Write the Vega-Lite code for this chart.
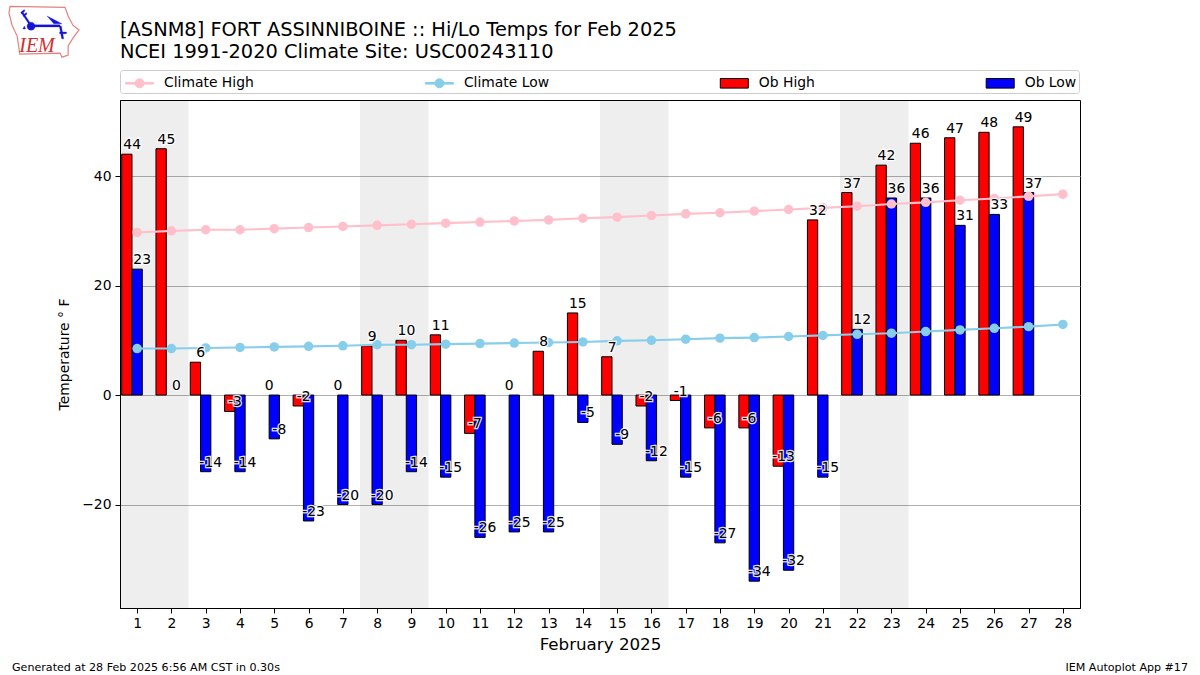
{
"$schema":"https://vega.github.io/schema/vega-lite/v6.json",
"width":960,"height":508,
"autosize":{"type":"none"},
"padding":{"left":120,"top":100,"right":120,"bottom":67},
"background":"white",
"view":{"stroke":"black","strokeWidth":1},
"config":{"font":"DejaVu Sans","text":{"font":"DejaVu Sans"}},
"title":{"text":["[ASNM8] FORT ASSINNIBOINE :: Hi/Lo Temps for Feb 2025","NCEI 1991-2020 Climate Site: USC00243110"],"anchor":"start","frame":"group","font":"DejaVu Sans","fontSize":19.4,"fontWeight":"normal","lineHeight":22,"offset":-59,"color":"black"},
"datasets":{
"daily":[
{"day":1,"climateHigh":29.7,"climateLow":8.5,"obHigh":44,"obLow":23},
{"day":2,"climateHigh":30.0,"climateLow":8.5,"obHigh":45,"obLow":0},
{"day":3,"climateHigh":30.2,"climateLow":8.6,"obHigh":6,"obLow":-14},
{"day":4,"climateHigh":30.2,"climateLow":8.7,"obHigh":-3,"obLow":-14},
{"day":5,"climateHigh":30.4,"climateLow":8.8,"obHigh":0,"obLow":-8},
{"day":6,"climateHigh":30.6,"climateLow":8.9,"obHigh":-2,"obLow":-23},
{"day":7,"climateHigh":30.8,"climateLow":9.0,"obHigh":0,"obLow":-20},
{"day":8,"climateHigh":31.0,"climateLow":9.2,"obHigh":9,"obLow":-20},
{"day":9,"climateHigh":31.2,"climateLow":9.2,"obHigh":10,"obLow":-14},
{"day":10,"climateHigh":31.4,"climateLow":9.3,"obHigh":11,"obLow":-15},
{"day":11,"climateHigh":31.6,"climateLow":9.4,"obHigh":-7,"obLow":-26},
{"day":12,"climateHigh":31.8,"climateLow":9.5,"obHigh":0,"obLow":-25},
{"day":13,"climateHigh":32.0,"climateLow":9.6,"obHigh":8,"obLow":-25},
{"day":14,"climateHigh":32.3,"climateLow":9.7,"obHigh":15,"obLow":-5},
{"day":15,"climateHigh":32.5,"climateLow":9.9,"obHigh":7,"obLow":-9},
{"day":16,"climateHigh":32.8,"climateLow":10.0,"obHigh":-2,"obLow":-12},
{"day":17,"climateHigh":33.1,"climateLow":10.2,"obHigh":-1,"obLow":-15},
{"day":18,"climateHigh":33.3,"climateLow":10.4,"obHigh":-6,"obLow":-27},
{"day":19,"climateHigh":33.6,"climateLow":10.5,"obHigh":-6,"obLow":-34},
{"day":20,"climateHigh":33.9,"climateLow":10.7,"obHigh":-13,"obLow":-32},
{"day":21,"climateHigh":34.2,"climateLow":10.9,"obHigh":32,"obLow":-15},
{"day":22,"climateHigh":34.5,"climateLow":11.1,"obHigh":37,"obLow":12},
{"day":23,"climateHigh":34.9,"climateLow":11.3,"obHigh":42,"obLow":36},
{"day":24,"climateHigh":35.2,"climateLow":11.6,"obHigh":46,"obLow":36},
{"day":25,"climateHigh":35.6,"climateLow":11.9,"obHigh":47,"obLow":31},
{"day":26,"climateHigh":35.9,"climateLow":12.2,"obHigh":48,"obLow":33},
{"day":27,"climateHigh":36.3,"climateLow":12.5,"obHigh":49,"obLow":37},
{"day":28,"climateHigh":36.7,"climateLow":12.9,"obHigh":null,"obLow":null}
],
"weekends":[{"start":0.5,"end":2.5},{"start":7.5,"end":9.5},{"start":14.5,"end":16.5},{"start":21.5,"end":23.5}],
"series":[{"series":"Climate High"},{"series":"Climate Low"},{"series":"Ob High"},{"series":"Ob Low"}]
},
"encoding":{
"x":{"field":"day","type":"quantitative","scale":{"domain":[0.5,28.5],"nice":false,"zero":false,"padding":0},
"axis":{"values":[1,2,3,4,5,6,7,8,9,10,11,12,13,14,15,16,17,18,19,20,21,22,23,24,25,26,27,28],"format":"d","grid":false,"title":"February 2025","titleFont":"DejaVu Sans","titleFontSize":16.7,"titleFontWeight":"normal","titleColor":"black","titlePadding":7,"labelFont":"DejaVu Sans","labelFontSize":13.9,"labelColor":"black","labelPadding":3,"labelFlush":false,"labelOverlap":false,"tickColor":"black","tickSize":5,"domainColor":"black"}}
},
"layer":[
{"data":{"name":"weekends"},"mark":{"type":"rect","color":"black","opacity":0.067},
 "encoding":{"x":{"field":"start","type":"quantitative"},"x2":{"field":"end"}}},
{"data":{"name":"daily"},"transform":[{"filter":"isValid(datum.obHigh) && datum.obHigh != 0"}],
 "mark":{"type":"bar","width":10.3,"xOffset":-10.3,"color":"#ff0000","stroke":"black","strokeWidth":1},
 "encoding":{"y":{"field":"obHigh","type":"quantitative","scale":{"domain":[-38.9,53.9],"nice":false,"zero":false},
  "axis":{"values":[-20,0,20,40],"grid":true,"gridColor":"#b0b0b0","gridWidth":1,"title":"Temperature ° F","titleFont":"DejaVu Sans","titleFontSize":13.9,"titleFontWeight":"normal","titleColor":"black","titlePadding":10,"labelFont":"DejaVu Sans","labelFontSize":13.9,"labelColor":"black","labelPadding":4,"tickColor":"black","tickSize":5,"domainColor":"black"}}}},
{"data":{"name":"daily"},"transform":[{"filter":"isValid(datum.obLow) && datum.obLow != 0"}],
 "mark":{"type":"bar","width":10.3,"color":"#0000ff","stroke":"black","strokeWidth":1},
 "encoding":{"y":{"field":"obLow","type":"quantitative"}}},
{"data":{"name":"daily"},"mark":{"type":"line","color":"pink","strokeWidth":2.1},"encoding":{"y":{"field":"climateHigh","type":"quantitative"}}},
{"data":{"name":"daily"},"mark":{"type":"point","filled":true,"color":"pink","opacity":1,"size":90},"encoding":{"y":{"field":"climateHigh","type":"quantitative"}}},
{"data":{"name":"daily"},"mark":{"type":"line","color":"skyblue","strokeWidth":2.1},"encoding":{"y":{"field":"climateLow","type":"quantitative"}}},
{"data":{"name":"daily"},"mark":{"type":"point","filled":true,"color":"skyblue","opacity":1,"size":90},"encoding":{"y":{"field":"climateLow","type":"quantitative"}}},
{"data":{"name":"daily"},"transform":[{"filter":"isValid(datum.obHigh)"}],"mark":{"type":"text","fontSize":13.9,"align":"center","baseline":"alphabetic","dx":-5,"dy":-5,"stroke":"white","strokeWidth":2.5,"strokeOpacity":0.9},
 "encoding":{"y":{"field":"obHigh","type":"quantitative"},"text":{"field":"obHigh","type":"nominal"}}},
{"data":{"name":"daily"},"transform":[{"filter":"isValid(datum.obLow)"}],"mark":{"type":"text","fontSize":13.9,"align":"center","baseline":"alphabetic","dx":5,"dy":-5,"stroke":"white","strokeWidth":2.5,"strokeOpacity":0.9},
 "encoding":{"y":{"field":"obLow","type":"quantitative"},"text":{"field":"obLow","type":"nominal"}}},
{"data":{"name":"daily"},"transform":[{"filter":"isValid(datum.obHigh)"}],"mark":{"type":"text","fontSize":13.9,"align":"center","baseline":"alphabetic","dx":-5,"dy":-5,"color":"black"},
 "encoding":{"y":{"field":"obHigh","type":"quantitative"},"text":{"field":"obHigh","type":"nominal"}}},
{"data":{"name":"daily"},"transform":[{"filter":"isValid(datum.obLow)"}],"mark":{"type":"text","fontSize":13.9,"align":"center","baseline":"alphabetic","dx":5,"dy":-5,"color":"black"},
 "encoding":{"y":{"field":"obLow","type":"quantitative"},"text":{"field":"obLow","type":"nominal"}}},
{"data":{"name":"series"},"mark":{"type":"point","opacity":0,"filled":true},
 "encoding":{"x":{"value":0},"y":{"value":0},
  "shape":{"field":"series","type":"nominal","scale":{"domain":["Climate High","Climate Low","Ob High","Ob Low"],"range":["M-0.75,-0.08H2.05V0.08H-0.75Z M0.2,0A0.45,0.45 0 1 1 1.1,0A0.45,0.45 0 1 1 0.2,0Z","M-0.75,-0.08H2.05V0.08H-0.75Z M0.2,0A0.45,0.45 0 1 1 1.1,0A0.45,0.45 0 1 1 0.2,0Z","M-0.75,-0.48H2.05V0.48H-0.75Z","M-0.75,-0.48H2.05V0.48H-0.75Z"]},
   "legend":{"title":null,"orient":"none","legendX":0,"legendY":-30,"direction":"horizontal","columns":4,"columnPadding":167.9,"symbolSize":400,"symbolOpacity":1,"labelOpacity":1,"symbolStrokeWidth":1,"labelFont":"DejaVu Sans","labelFontSize":13.9,"labelColor":"black","labelOffset":20.5,"padding":2.5,"strokeColor":"#cccccc","cornerRadius":3,"fillColor":"white"}},
  "fill":{"field":"series","type":"nominal","scale":{"domain":["Climate High","Climate Low","Ob High","Ob Low"],"range":["pink","skyblue","#ff0000","#0000ff"]},"legend":{"title":null}},
  "stroke":{"field":"series","type":"nominal","scale":{"domain":["Climate High","Climate Low","Ob High","Ob Low"],"range":["pink","skyblue","black","black"]},"legend":{"title":null}}}},
{"data":{"values":[{"note":"Generated at 28 Feb 2025 6:56 AM CST in 0.30s"}]},"mark":{"type":"text","fontSize":11.1,"align":"left","baseline":"alphabetic","color":"black"},"encoding":{"x":{"value":-108},"y":{"value":571},"text":{"field":"note","type":"nominal"}}},
{"data":{"values":[{"note":"IEM Autoplot App #17"}]},"mark":{"type":"text","fontSize":11.1,"align":"right","baseline":"alphabetic","color":"black"},"encoding":{"x":{"value":1068},"y":{"value":571},"text":{"field":"note","type":"nominal"}}},
{"data":{"values":[{"logo":"outline"}]},"mark":{"type":"point","shape":"M-1,-0.756 L0.62,-0.726 L0.71,-0.47 L0.85,-0.2 L1.03,-0.06 L0.85,0.18 L0.71,0.41 L0.71,0.68 L0.53,0.74 L0.47,0.62 L-0.71,0.65 L-0.79,0.12 L-0.94,-0.2 L-1.03,-0.56 Z","size":4624,"filled":false,"stroke":"#e88080","strokeWidth":1.2,"opacity":1},"encoding":{"x":{"value":-76},"y":{"value":-68}}},
{"data":{"values":[{"logo":"barb"}]},"mark":{"type":"point","shape":"M-0.38,-0.21 L0.47,-0.21 L0.47,-0.15 L-0.38,-0.15 Z M-0.5,-0.17 A0.12,0.12 0 1 1 -0.26,-0.17 A0.12,0.12 0 1 1 -0.5,-0.17 Z M-0.4,-0.16 L-0.68,-0.58 L-0.63,-0.6 L-0.36,-0.2 Z M-0.68,-0.58 L-0.58,-0.66 L-0.56,-0.62 L-0.66,-0.53 Z M-0.62,-0.49 L-0.52,-0.57 L-0.5,-0.53 L-0.6,-0.45 Z M0.09,-0.47 L0.53,-0.24 L0.29,-0.24 Z M0.45,-0.18 L0.51,-0.18 L0.58,0.2 L0.52,0.2 Z M0.46,0 L0.66,0 L0.66,0.05 L0.46,0.05 Z M-0.62,-0.09 L-0.58,-0.18 L-0.54,-0.09 Z","size":4624,"filled":true,"fill":"#1414d8","stroke":"#1414d8","strokeWidth":0.3,"opacity":1},"encoding":{"x":{"value":-76},"y":{"value":-68}}},
{"data":{"values":[{"logo":"IEM"}]},"mark":{"type":"text","font":"Liberation Serif","fontStyle":"italic","fontSize":20,"align":"center","baseline":"alphabetic","color":"#d03030"},"encoding":{"x":{"value":-83},"y":{"value":-48},"text":{"field":"logo","type":"nominal"}}}
]
}
